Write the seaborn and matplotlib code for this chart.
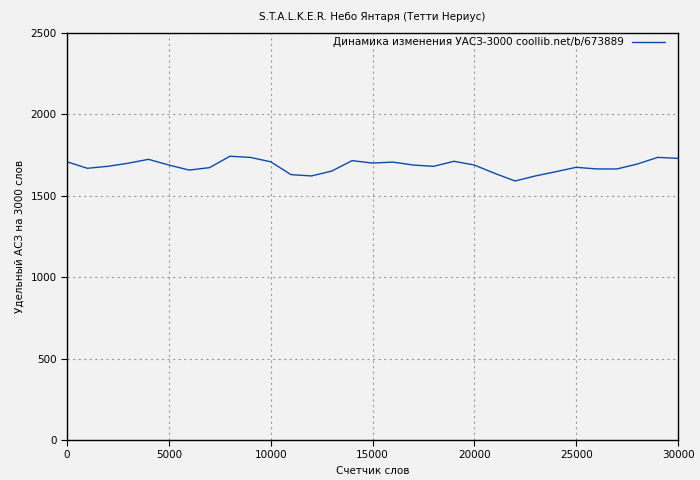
import matplotlib
matplotlib.use("Agg")
import matplotlib.pyplot as plt
import pandas as pd
import seaborn as sns

# ─── данные ─────────────────────────────────────────
words = list(range(0, 31000, 1000))
uasz = [1709, 1669, 1681, 1700, 1724, 1689, 1658, 1673, 1743, 1736,
        1709, 1630, 1622, 1652, 1716, 1701, 1707, 1689, 1681, 1712,
        1689, 1638, 1591, 1622, 1648, 1675, 1665, 1665, 1695, 1736,
        1730]
series_label = "Динамика изменения УАСЗ-3000 coollib.net/b/673889"

df = pd.DataFrame({"words": words, "uasz": uasz, "series": series_label})

sns.set_style("white")
plt.rcParams["font.family"] = ["DejaVu Sans"]
plt.rcParams["text.color"] = "black"

BG = "#f2f2f2"
fig = plt.figure(figsize=(7, 4.8), dpi=100, facecolor=BG)
ax = fig.add_axes([67 / 700, 40 / 480, 611 / 700, 407 / 480])
ax.set_facecolor(BG)

sns.lineplot(data=df, x="words", y="uasz", hue="series",
             palette=["#0a4ab0"], linewidth=1.0, ax=ax)

ax.set_xlim(0, 30000)
ax.set_ylim(0, 2500)
ax.set_xticks(range(0, 30001, 5000))
ax.set_yticks(range(0, 2501, 500))
ax.grid(True, color="#999999", linestyle=(0, (2, 3)), linewidth=0.8)
for s in ax.spines.values():
    s.set_color("black")
    s.set_linewidth(1.0)
ax.tick_params(labelsize=7.5, direction="out", length=4, color="black",
               labelcolor="black", left=True, bottom=True)

ax.set_title("S.T.A.L.K.E.R. Небо Янтаря (Тетти Нериус)", fontsize=7.5,
             pad=9, color="black")
ax.set_xlabel("Счетчик слов", fontsize=7.5, color="black")
ax.set_ylabel("Удельный АСЗ на 3000 слов", fontsize=7.5, color="black")

leg = ax.legend(loc="upper right", frameon=False, fontsize=7.5,
                markerfirst=False, handlelength=3.2, handletextpad=0.7,
                borderaxespad=0, title=None,
                bbox_to_anchor=(669 / 700, 1 - 33 / 480),
                bbox_transform=fig.transFigure)
for t in leg.get_texts():
    t.set_color("black")

fig.savefig("out.png", dpi=100, facecolor=BG)
